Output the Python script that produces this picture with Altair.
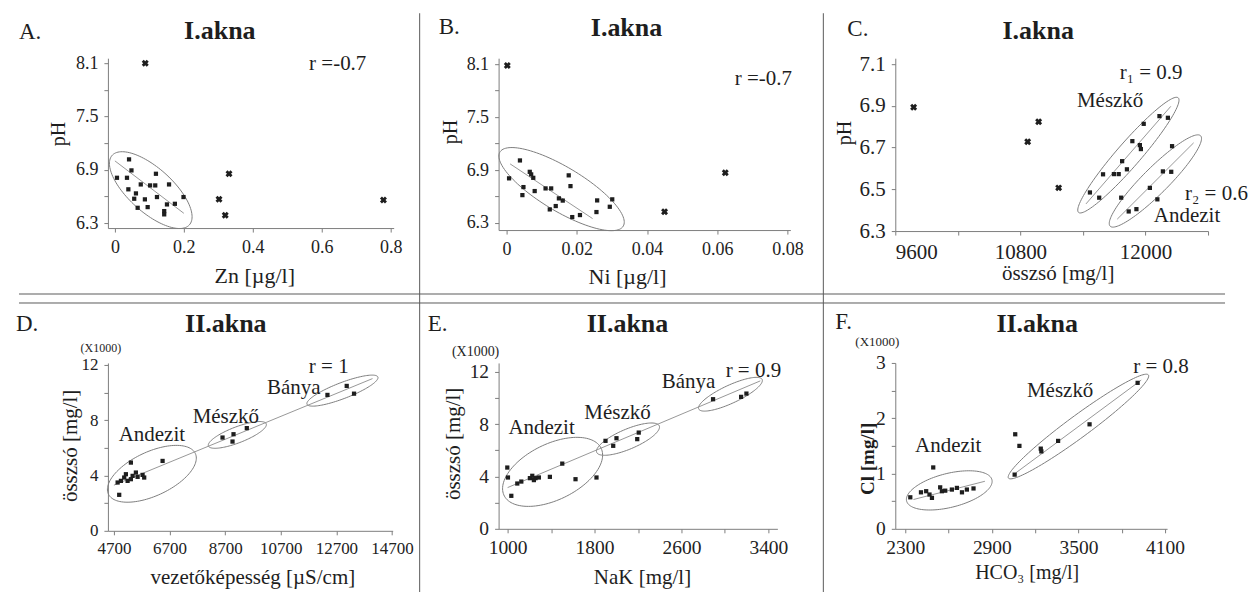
import json
import altair as alt
import numpy as np
import pandas as pd

FONT = "Liberation Serif"
INK = "#1e1e1e"
GREY = "#7d7d7d"

# ---------------- A: pH vs Zn (I. akna) ----------------
a_zn = [0.041, 0.048, 0.006, 0.035, 0.119, 0.075, 0.102, 0.117, 0.157, 0.039, 0.061,
        0.056, 0.087, 0.122, 0.199, 0.066, 0.095, 0.151, 0.174, 0.143, 0.143]
a_ph = [7.017, 6.893, 6.81, 6.81, 6.855, 6.735, 6.724, 6.724, 6.735, 6.68, 6.634,
        6.574, 6.567, 6.593, 6.593, 6.472, 6.48, 6.51, 6.517, 6.435, 6.398]
a_out_zn = [0.088, 0.331, 0.302, 0.32, 0.779]
a_out_ph = [8.1, 6.855, 6.567, 6.387, 6.559]

# ---------------- B: pH vs Ni (I. akna) ----------------
b_ni = [0.0038, 0.0007, 0.0066, 0.007, 0.0076, 0.0177, 0.0182, 0.0048, 0.0045, 0.008, 0.0111,
        0.0127, 0.0149, 0.016, 0.014, 0.0123, 0.0187, 0.0209, 0.0258, 0.0256, 0.0301, 0.0294]
b_ph = [7.009, 6.806, 6.88, 6.851, 6.812, 6.84, 6.718, 6.707, 6.616, 6.662, 6.692,
        6.692, 6.579, 6.554, 6.492, 6.454, 6.367, 6.39, 6.556, 6.424, 6.568, 6.484]
b_out_ni = [0.0002, 0.0623, 0.045]
b_out_ph = [8.085, 6.869, 6.427]

# ---------------- C: pH vs total dissolved solids (I. akna) ----------------
c_meszko_tds = [12134, 12215, 11983, 11874, 11946, 11956, 11776, 11593, 11697, 11743, 11822, 11467, 11556]
c_meszko_ph = [6.851, 6.843, 6.814, 6.731, 6.712, 6.693, 6.635, 6.572, 6.573, 6.573, 6.596, 6.485, 6.46]
c_andezit_tds = [12255, 12167, 12247, 12042, 12114, 11767, 11839, 11913]
c_andezit_ph = [6.707, 6.586, 6.584, 6.507, 6.452, 6.46, 6.394, 6.405]
c_out_tds = [9776, 10870, 10975, 11167]
c_out_ph = [6.894, 6.728, 6.824, 6.507]

# ---------------- D: TDS (x1000) vs conductivity (II. akna) ----------------
d_banya_ec = [12379, 13072, 13335]
d_banya_tds = [9.82, 10.47, 9.91]
d_meszko_ec = [8606, 9001, 8965, 9479]
d_meszko_tds = [6.74, 6.98, 6.45, 7.42]
d_andezit_ec = [5311, 6450, 4890, 4833, 4952, 5070, 5131, 5192, 5311, 5372, 5490, 5552, 5731, 5789]
d_andezit_tds = [4.93, 5.05, 2.60, 3.49, 3.61, 3.85, 4.09, 3.61, 3.73, 3.97, 4.21, 3.90, 4.04, 3.85]

# ---------------- E: TDS (x1000) vs NaK (II. akna) ----------------
e_banya_nak = [2891, 3149, 3198]
e_banya_tds = [9.90, 10.08, 10.33]
e_meszko_nak = [1901, 2002, 1972, 2207, 2193]
e_meszko_tds = [6.72, 6.92, 6.34, 7.35, 6.85]
e_andezit_nak = [997, 1003, 1034, 1089, 1126, 1205, 1227, 1257, 1288, 1242, 1389, 1503, 1625, 1818]
e_andezit_tds = [4.68, 3.92, 2.52, 3.46, 3.61, 3.87, 4.05, 3.87, 3.92, 3.72, 3.97, 4.98, 3.79, 3.92]

# ---------------- F: Cl (x1000) vs HCO3 (II. akna) ----------------
f_meszko_hco3 = [3910, 3577, 3359, 3239, 3243, 3058, 3062, 3091, 2494]
f_meszko_cl = [2.64, 1.89, 1.59, 1.45, 1.40, 0.98, 1.71, 1.50, 1.11]
f_andezit_hco3 = [2335, 2409, 2445, 2468, 2485, 2542, 2554, 2577, 2623, 2658, 2693, 2727, 2773]
f_andezit_cl = [0.57, 0.66, 0.68, 0.62, 0.56, 0.75, 0.68, 0.69, 0.71, 0.74, 0.66, 0.71, 0.73]


def ellipse_outline(ellipses, sx, sy, n=120):
    """Outline of group ellipses: centre in data units, semi-axes in px, tilt in degrees."""
    rows = []
    t = np.linspace(0, 2 * np.pi, n)
    for k, (cx, cy, a, b, phi) in enumerate(ellipses):
        p = np.radians(phi)
        u, v = a * np.cos(t), b * np.sin(t)
        dx = u * np.cos(p) - v * np.sin(p)
        dy = u * np.sin(p) + v * np.cos(p)
        for i in range(n):
            rows.append({"g": k, "i": i, "x": cx + dx[i] / sx, "y": cy + dy[i] / sy})
    return pd.DataFrame(rows)


def make_axis(values, major, size, flush):
    expr = "indexof(%s, datum.value) >= 0 ? format(datum.value, '~g') : ''" % json.dumps(major)
    return alt.Axis(values=values, labelExpr=expr, title=None, grid=False,
                    domainColor=GREY, tickColor=GREY, tickSize=4, tickWidth=1,
                    labelColor="#222222", labelFont=FONT, labelFontSize=size,
                    labelPadding=6, labelOverlap=False, labelFlush=flush)


def text_layer(txt, x, y, size, bold=False, align="center", angle=0):
    return alt.Chart(pd.DataFrame({"k": [0]})).mark_text(
        text=txt, font=FONT, fontSize=size, fontWeight="bold" if bold else "normal",
        align=align, baseline="middle", angle=angle, color=INK
    ).encode(x=alt.value(x), y=alt.value(y))


def panel(p):
    (x0, x1), (y0, y1), w, h = p["xdom"], p["ydom"], p["w"], p["h"]
    ox, oy = p["origin"]
    sx, sy = w / (x1 - x0), h / (y1 - y0)
    X = alt.X("x:Q", scale=alt.Scale(domain=[x0, x1], nice=False, zero=False),
              axis=make_axis(p["xticks"], p["xmajor"], p["lsize"], p.get("xflush", False)))
    Y = alt.Y("y:Q", scale=alt.Scale(domain=[y0, y1], nice=False, zero=False),
              axis=make_axis(p["yticks"], p["ymajor"], p["lsize"], False))

    layers = []
    ell = ellipse_outline(p["ellipses"], sx, sy)
    layers.append(alt.Chart(ell).mark_line(color=GREY, strokeWidth=1, clip=False).encode(
        x=X, y=Y, detail="g:N", order="i:Q"))
    reg = pd.DataFrame(p["lines"], columns=["x", "y", "x2", "y2"])
    layers.append(alt.Chart(reg).mark_rule(color="#8c8c8c", strokeWidth=0.9).encode(
        x=X, y=Y, x2="x2:Q", y2="y2:Q"))
    pts = pd.DataFrame({"x": p["px"], "y": p["py"]})
    layers.append(alt.Chart(pts).mark_square(color=INK, size=18, opacity=1).encode(x=X, y=Y))
    if p.get("ox_"):
        out = pd.DataFrame({"x": p["ox_"], "y": p["oy_"]})
        layers.append(alt.Chart(out).mark_point(shape="cross", angle=45, filled=True,
                                                color=INK, size=50, opacity=1).encode(x=X, y=Y))
    for t in p["texts"]:
        txt, ax_, ay_, size = t[:4]
        opts = t[4] if len(t) > 4 else {}
        layers.append(text_layer(txt, ax_ - ox, ay_ - oy, size, **opts))
    layers += p.get("extra", [])
    return alt.layer(*layers).properties(width=w, height=h)


def rule_px(x1, y1, x2, y2, color="#5a5a5a", width=1.0):
    return alt.Chart(pd.DataFrame({"k": [0]})).mark_rule(color=color, strokeWidth=width).encode(
        x=alt.value(x1), y=alt.value(y1), x2=alt.value(x2), y2=alt.value(y2))


OA = (107, 57)
# frame lines separating the six panels (drawn from panel A, relative to its origin)
frame = [
    rule_px(-107, -57, 1143, -57, color="#ffffff", width=0.1),
    rule_px(419 - OA[0], 12 - OA[1], 419 - OA[0], 592 - OA[1]),
    rule_px(823 - OA[0], 12 - OA[1], 823 - OA[0], 592 - OA[1]),
    rule_px(18 - OA[0], 293 - OA[1], 1225 - OA[0], 293 - OA[1]),
    rule_px(18 - OA[0], 302 - OA[1], 1225 - OA[0], 302 - OA[1]),
]

LEFT = {"align": "left"}
ROT = {"angle": 270}
BOLD = {"bold": True}

ph_ticks = [6.3, 6.6, 6.9, 7.2, 7.5, 7.8, 8.1]
ph_major = [6.3, 6.9, 7.5, 8.1]

panels = [
    dict(origin=OA, xdom=(-0.0203, 0.8087), ydom=(6.244, 8.156), w=286, h=170, lsize=18,
         xticks=[0, 0.2, 0.4, 0.6, 0.8], xmajor=[0, 0.2, 0.4, 0.6, 0.8],
         yticks=ph_ticks, ymajor=ph_major,
         px=a_zn, py=a_ph, ox_=a_out_zn, oy_=a_out_ph,
         ellipses=[(0.104, 6.671, 52, 22, -42)],
         lines=[(0.0, 7.0, 0.2, 6.41)],
         texts=[("A.", 18, 31, 23, LEFT), ("I.akna", 219, 30, 26, BOLD),
                ("r =-0.7", 337, 63, 21), ("pH", 58, 133, 20, ROT),
                ("Zn [µg/l]", 254, 275, 22)],
         extra=frame),
    dict(origin=(498, 57), xdom=(-0.00228, 0.08085), ydom=(6.220, 8.168), w=292, h=172, lsize=18,
         xticks=[0, 0.02, 0.04, 0.06, 0.08], xmajor=[0, 0.02, 0.04, 0.06, 0.08],
         yticks=ph_ticks, ymajor=ph_major,
         px=b_ni, py=b_ph, ox_=b_out_ni, oy_=b_out_ph,
         ellipses=[(0.01566, 6.684, 72, 22, -31)],
         lines=[(0.001, 6.97, 0.0245, 6.35)],
         texts=[("B.", 438, 26, 23, LEFT), ("I.akna", 626, 27, 26, BOLD),
                ("r =-0.7", 763, 78, 21), ("pH", 450, 131, 20, ROT),
                ("Ni [µg/l]", 627, 276, 22)]),
    dict(origin=(895, 57), xdom=(9600, 12600), ydom=(6.3, 7.1287), w=313, h=173, lsize=21,
         xticks=[9600, 10200, 10800, 11400, 12000, 12600], xmajor=[9600, 10800, 12000], xflush=True,
         yticks=[6.3, 6.5, 6.7, 6.9, 7.1], ymajor=[6.3, 6.5, 6.7, 6.9, 7.1],
         px=c_meszko_tds + c_andezit_tds, py=c_meszko_ph + c_andezit_ph,
         ox_=c_out_tds, oy_=c_out_ph,
         ellipses=[(11836, 6.664, 76, 12, 49), (12095, 6.540, 64, 13, 45)],
         lines=[(11429, 6.43, 12243, 6.898), (11729, 6.357, 12462, 6.723)],
         texts=[("C.", 847, 28, 23, LEFT), ("I.akna", 1038, 30, 26, BOLD),
                ("r₁ = 0.9", 1151, 72, 21), ("Mészkő", 1110, 100, 21),
                ("r₂ = 0.6", 1185, 193, 21, LEFT), ("Andezit", 1187, 215, 21),
                ("pH", 845, 132, 20, ROT), ("összsó [mg/l]", 1058, 273, 21)]),
    dict(origin=(107, 362), xdom=(4484, 14725), ydom=(0, 12.13), w=285, h=168, lsize=17,
         xticks=[4700, 6700, 8700, 10700, 12700, 14700], xmajor=[4700, 6700, 8700, 10700, 12700, 14700],
         yticks=[0, 2, 4, 6, 8, 10, 12], ymajor=[0, 4, 8, 12],
         px=d_banya_ec + d_meszko_ec + d_andezit_ec, py=d_banya_tds + d_meszko_tds + d_andezit_tds,
         ellipses=[(6065, 4.12, 48, 22, 25), (9138, 6.93, 31, 8, 21), (12918, 10.13, 38, 8, 21)],
         lines=[(4700, 3.3, 14000, 11.0)],
         texts=[("D.", 15, 323, 23, LEFT), ("II.akna", 225, 323, 26, BOLD),
                ("(X1000)", 100, 347, 12), ("r = 1", 328, 366, 21),
                ("Bánya", 293, 387, 21), ("Mészkő", 225, 416, 21), ("Andezit", 151, 434, 21),
                ("összsó [mg/l]", 70, 445, 21, ROT),
                ("vezetőképesség [µS/cm]", 252, 577, 21)]),
    dict(origin=(498, 362), xdom=(917, 3483), ydom=(0, 12.67), w=279, h=166, lsize=19.5,
         xticks=[1000, 1400, 1800, 2200, 2600, 3000, 3400], xmajor=[1000, 1800, 2600, 3400],
         yticks=[0, 2, 4, 6, 8, 10, 12], ymajor=[0, 4, 8, 12],
         px=e_banya_nak + e_meszko_nak + e_andezit_nak, py=e_banya_tds + e_meszko_tds + e_andezit_tds,
         ellipses=[(1414, 4.35, 54, 28, 26), (2108, 6.85, 34, 10, 23), (3051, 10.28, 35, 9, 25)],
         lines=[(1000, 3.15, 3326, 11.3)],
         texts=[("E.", 427, 323, 23, LEFT), ("II.akna", 627, 323, 26, BOLD),
                ("(X1000)", 475, 351, 14), ("r = 0.9", 753, 370, 21),
                ("Bánya", 688, 381, 21), ("Mészkő", 617, 412, 21), ("Andezit", 541, 427, 21),
                ("összsó [mg/l]", 453, 443, 21, ROT), ("NaK [mg/l]", 642, 577, 21)]),
    dict(origin=(895, 362), xdom=(2231, 4114), ydom=(0, 3.0), w=272, h=166, lsize=19.5,
         xticks=[2300, 2600, 2900, 3200, 3500, 3800, 4100], xmajor=[2300, 2900, 3500, 4100],
         yticks=[0, 0.5, 1, 1.5, 2, 2.5, 3], ymajor=[0, 1, 2, 3],
         px=f_meszko_hco3 + f_andezit_hco3, py=f_meszko_cl + f_andezit_cl,
         ellipses=[(2605, 0.695, 44, 17, 14), (3500, 1.85, 87, 11, 36.4)],
         lines=[(2357, 0.53, 2852, 0.86), (3065, 1.01, 3935, 2.69)],
         texts=[("F.", 835, 321, 23, LEFT), ("II.akna", 1037, 323, 26, BOLD),
                ("(X1000)", 877, 341, 13), ("r = 0.8", 1161, 366, 21),
                ("Mészkő", 1060, 390, 21), ("Andezit", 948, 445, 21),
                ("Cl [mg/l]", 868, 458, 19, {"angle": 270, "bold": True}),
                ("HCO₃ [mg/l]", 1027, 572, 20)]),
]

charts = [panel(p) for p in panels]

chart = alt.concat(
    *charts, columns=3, spacing={"row": 132, "column": 105}, bounds="flush"
).properties(
    padding=0, background="#ffffff"
).configure_view(strokeWidth=0)

chart.save("out.html", embed_options={"renderer": "svg", "actions": False})
